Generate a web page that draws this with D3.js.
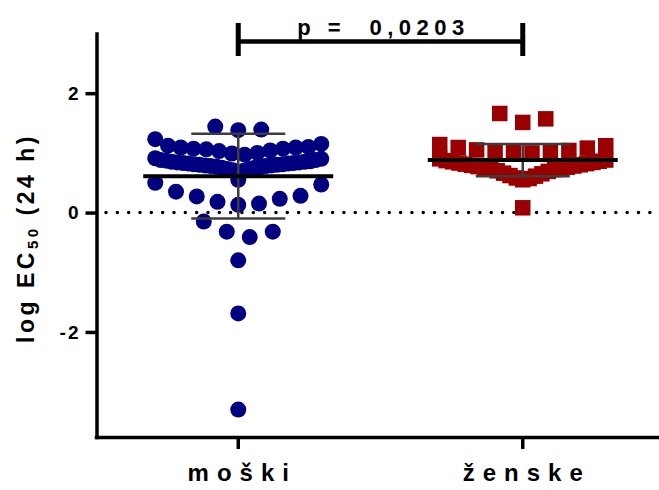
<!DOCTYPE html>
<html>
<head>
<meta charset="utf-8">
<script src="https://cdn.jsdelivr.net/npm/d3@7"></script>
<style>
  html, body { margin: 0; padding: 0; background: #fff; }
  svg { display: block; font-family: "Liberation Sans", Arial, sans-serif; font-weight: bold; }
</style>
</head>
<body>
<div id="chart"></div>
<script>
// data
const groups = ['moški', 'ženske'];
const maleValues = [
  -3.30, -1.69, -0.80, -0.41, -0.32, -0.32, -0.15,
  0.13, 0.15, 0.18, 0.23, 0.27, 0.28, 0.35, 0.47, 0.50,
  0.55, 0.70, 0.71, 0.73, 0.73, 0.75, 0.75, 0.76, 0.77, 0.78, 0.78, 0.79, 0.79, 0.80, 0.80,
  0.81, 0.81, 0.82, 0.82, 0.83, 0.83, 0.84, 0.84, 0.85, 0.85, 0.86, 0.87, 0.88, 0.88, 0.90, 0.91,
  0.97, 0.99, 1.00, 1.03, 1.04, 1.06, 1.07, 1.07, 1.09, 1.09, 1.10, 1.12, 1.15, 1.23,
  1.38, 1.39, 1.44
];
const femaleValues = [
  0.08,
  0.55, 0.57, 0.58, 0.61, 0.62, 0.65, 0.66, 0.69, 0.70, 0.72, 0.73, 0.74, 0.75, 0.76,
  0.77, 0.78, 0.79, 0.80, 0.81, 0.82, 0.83, 0.84, 0.85, 0.86, 0.87, 0.88, 0.90,
  1.00, 1.01, 1.02, 1.03, 1.04, 1.05, 1.08, 1.09, 1.12, 1.14,
  1.51, 1.57, 1.66
];
const groupMeans = [0.61, 0.88];
const groupSDs = [0.71, 0.27];
const yTicks = [-2, 0, 2];
const pLabel = 'p =  0,0203';

const width = 659, height = 490;
const colors = ['#000080', '#9a0000'];

const svg = d3.select('#chart').append('svg')
  .attr('width', width)
  .attr('height', height);

const x = d3.scaleBand().domain(groups).range([96, 665]);
const y = d3.scaleLinear().domain([-3.76, 3]).range([437, 33.5]);
const cx = g => x(g) + x.bandwidth() / 2;

// GraphPad-like scatter: bin sorted values into rows, spread each row around the centre
function swarm(values, rowSpan, spread, maxStep) {
  const sorted = values.slice().sort(d3.ascending);
  const rows = [];
  sorted.forEach(v => {
    const row = rows[rows.length - 1];
    if (row && v - row[0] < rowSpan) row.push(v);
    else rows.push([v]);
  });
  const out = [];
  rows.forEach(row => {
    const n = row.length;
    const step = n > 1 ? Math.min(maxStep, spread / (n - 1)) : 0;
    const slots = d3.range(n).map(i => (i - (n - 1) / 2) * step)
      .sort((a, b) => Math.abs(a) - Math.abs(b) || b - a);
    row.forEach((v, i) => out.push({ value: v, dx: slots[i] }));
  });
  return out;
}

const malePts = swarm(maleValues, 0.38, 166, 23);
const femalePts = swarm(femaleValues, 0.38, 166, 23);

// zero line
svg.append('line')
  .attr('x1', 106).attr('x2', width)
  .attr('y1', y(0)).attr('y2', y(0))
  .attr('stroke', '#000')
  .attr('stroke-width', 3.5)
  .attr('stroke-linecap', 'round')
  .attr('stroke-dasharray', '0 11.33');

// points
svg.append('g').selectAll('circle')
  .data(malePts)
  .enter()
  .append('circle')
  .attr('cx', d => cx(groups[0]) + d.dx)
  .attr('cy', d => y(d.value))
  .attr('r', 8)
  .attr('fill', colors[0]);

const sq = 15.5;
svg.append('g').selectAll('rect')
  .data(femalePts)
  .enter()
  .append('rect')
  .attr('x', d => cx(groups[1]) + d.dx - sq / 2)
  .attr('y', d => y(d.value) - sq / 2)
  .attr('width', sq)
  .attr('height', sq)
  .attr('fill', colors[1]);

// mean and SD
groups.forEach((g, i) => {
  const c = cx(g);
  const m = groupMeans[i], s = groupSDs[i];
  const bars = svg.append('g').attr('stroke', '#3c3c3c').attr('stroke-width', 2.5);
  bars.append('line').attr('x1', c).attr('x2', c).attr('y1', y(m - s)).attr('y2', y(m + s));
  bars.append('line').attr('x1', c - 47).attr('x2', c + 47).attr('y1', y(m + s)).attr('y2', y(m + s));
  bars.append('line').attr('x1', c - 47).attr('x2', c + 47).attr('y1', y(m - s)).attr('y2', y(m - s));
  svg.append('line')
    .attr('x1', c - 95).attr('x2', c + 95)
    .attr('y1', y(m)).attr('y2', y(m))
    .attr('stroke', '#000')
    .attr('stroke-width', 4);
});

// axes
const yAxis = svg.append('g')
  .attr('transform', 'translate(96.5,0)')
  .call(d3.axisLeft(y).tickValues(yTicks).tickSize(11).tickSizeOuter(0).tickPadding(7)
    .tickFormat(d => String(d)));
yAxis.select('.domain').attr('stroke-width', 3.5).attr('stroke-linecap', 'square');
yAxis.selectAll('.tick line').attr('stroke-width', 3.5);
yAxis.selectAll('.tick text')
  .attr('font-size', 19)
  .attr('font-family', '"Liberation Sans", Arial, sans-serif')
  .attr('font-weight', 'bold')
  .attr('letter-spacing', 2)
  .attr('dx', 2)
  .attr('fill', '#000');

const xAxis = svg.append('g')
  .attr('transform', 'translate(0,437)')
  .call(d3.axisBottom(x).tickSize(12).tickSizeOuter(0).tickPadding(15));
xAxis.select('.domain').attr('stroke-width', 3.5).attr('stroke-linecap', 'square');
xAxis.selectAll('.tick line').attr('stroke-width', 3.5);
xAxis.selectAll('.tick text')
  .attr('font-size', 24)
  .attr('font-family', '"Liberation Sans", Arial, sans-serif')
  .attr('font-weight', 'bold')
  .attr('letter-spacing', 8)
  .attr('dx', 4)
  .attr('fill', '#000');

// y label
const yLabel = svg.append('text')
  .attr('transform', 'translate(34,238) rotate(-90)')
  .attr('text-anchor', 'middle')
  .attr('font-size', 23)
  .attr('letter-spacing', 3.5);
yLabel.append('tspan').text('log EC');
yLabel.append('tspan').attr('font-size', 15).attr('dy', 4).text('50');
yLabel.append('tspan').attr('dy', -4).text(' (24 h)');

// significance bracket
const x1 = cx(groups[0]), x2 = cx(groups[1]);
const bracket = svg.append('g').attr('stroke', '#000');
bracket.append('line').attr('x1', x1).attr('x2', x2).attr('y1', 41.5).attr('y2', 41.5).attr('stroke-width', 4.5);
bracket.append('line').attr('x1', x1).attr('x2', x1).attr('y1', 23).attr('y2', 56).attr('stroke-width', 5);
bracket.append('line').attr('x1', x2).attr('x2', x2).attr('y1', 23).attr('y2', 56).attr('stroke-width', 5);
svg.append('text')
  .attr('x', (x1 + x2) / 2 + 3)
  .attr('y', 35)
  .attr('text-anchor', 'middle')
  .attr('font-size', 22)
  .attr('letter-spacing', 5.5)
  .style('white-space', 'pre')
  .text(pLabel);
</script>
</body>
</html>
